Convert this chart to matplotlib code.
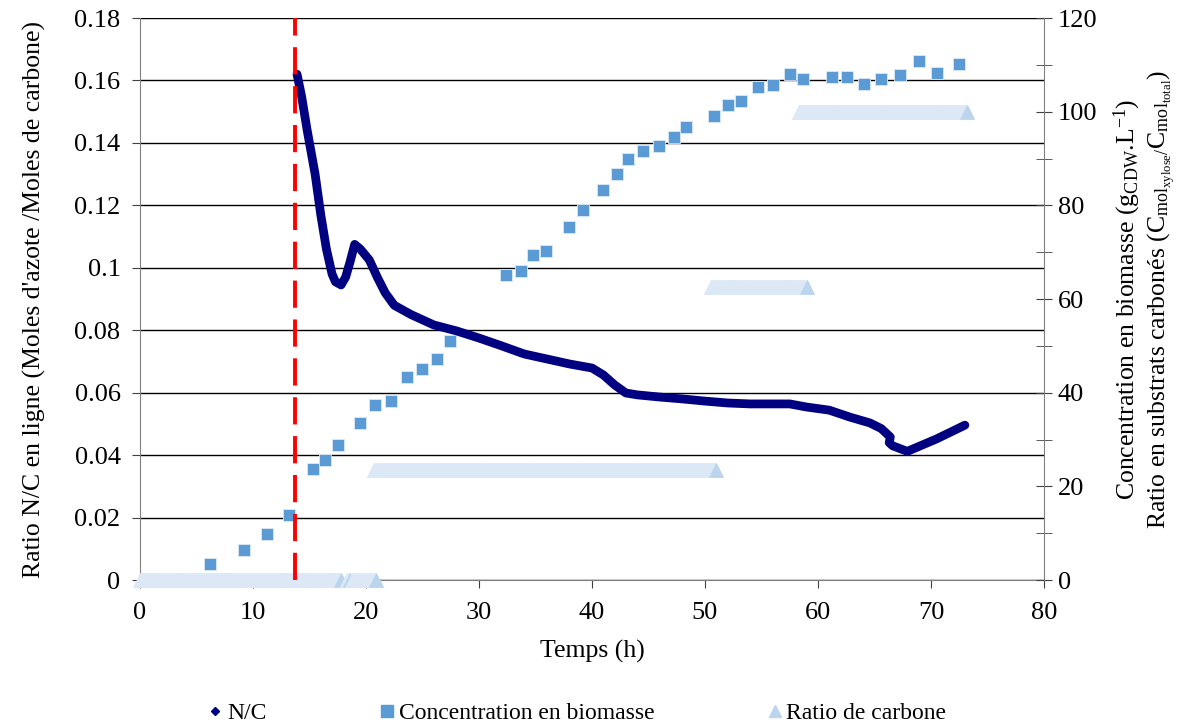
import numpy as np
import matplotlib
matplotlib.use("Agg")
import matplotlib.pyplot as plt
from matplotlib.lines import Line2D
from matplotlib.ticker import MultipleLocator

plt.rcParams['font.family'] = ['Liberation Serif', 'DejaVu Serif']
plt.rcParams['mathtext.fontset'] = 'custom'
plt.rcParams['mathtext.rm'] = 'Liberation Serif'
plt.rcParams['mathtext.it'] = 'Liberation Serif'

# Online N/C ratio (left axis)
nc_time = [13.9, 14.3, 14.8, 15.5, 16.0, 16.5, 17.0, 17.3, 17.8, 18.2, 18.6, 19.0,
           19.5, 20.3, 21.0, 21.7, 22.5, 24.0, 26.0, 28.0, 30.0, 32.0, 34.0, 36.0,
           38.0, 40.0, 41.0, 42.0, 43.0, 44.0, 46.0, 48.0, 50.0, 52.0, 54.0, 56.0,
           57.5, 59.0, 61.0, 62.8, 64.6, 65.6, 66.4, 66.3, 66.6, 67.9, 70.5, 73.0]
nc_ratio = [0.162, 0.155, 0.144, 0.130, 0.117, 0.106, 0.098, 0.0955, 0.0945, 0.097,
            0.102, 0.1075, 0.106, 0.1025, 0.097, 0.092, 0.088, 0.085, 0.0817, 0.0798,
            0.0775, 0.075, 0.0724, 0.0708, 0.0692, 0.0679, 0.0657, 0.0625, 0.0599,
            0.0593, 0.0586, 0.058, 0.0573, 0.0567, 0.0564, 0.0564, 0.0564, 0.0554,
            0.0544, 0.0522, 0.0503, 0.0485, 0.0458, 0.0440, 0.0430, 0.0412, 0.0452,
            0.0496]

# Biomass concentration (right axis)
bio_time = [6.2, 9.2, 11.2, 13.2, 15.3, 16.4, 17.5, 19.5, 20.8, 22.2, 23.6, 25.0,
            26.3, 27.4, 32.4, 33.7, 34.8, 35.9, 38.0, 39.2, 41.0, 42.2, 43.2, 44.5,
            45.9, 47.3, 48.3, 50.8, 52.0, 53.2, 54.7, 56.0, 57.5, 58.7, 61.2, 62.6,
            64.1, 65.6, 67.3, 68.9, 70.5, 72.5]
bio_conc = [3.4, 6.4, 9.8, 13.9, 23.7, 25.6, 28.8, 33.5, 37.4, 38.2, 43.3, 45.1,
            47.2, 51.0, 65.1, 66.0, 69.4, 70.3, 75.4, 79.0, 83.3, 86.7, 89.9, 91.6,
            92.7, 94.6, 96.7, 99.1, 101.4, 102.3, 105.3, 105.7, 108.1, 107.0, 107.4,
            107.4, 105.9, 107.0, 107.8, 110.8, 108.3, 110.2]

# Carbon substrate ratio phases (right axis): start, end, value
ratio_start = [0.0, 18.3, 18.8, 20.7, 50.5, 58.3]
ratio_end = [17.8, 18.6, 20.9, 51.0, 59.0, 73.2]
ratio_value = [0.0, 0.0, 0.0, 23.5, 62.5, 100.0]
sample_step = 0.05

switch_time = 13.7

navy = '#000080'
square_blue = '#5b9bd5'
band_blue = '#dce8f5'
tip_blue = '#bcd5ee'

TICK_FS = 19
LABEL_FS = 18.5

fig = plt.figure(figsize=(11.83, 7.27), dpi=100)
ax = fig.add_axes([0.1183, 0.2022, 0.7642, 0.773])
ax2 = ax.twinx()

ax.set_xlim(0, 80)
ax.set_ylim(0, 0.18)
ax2.set_ylim(0, 120)

ax.yaxis.set_major_locator(MultipleLocator(0.02))
ax.xaxis.set_major_locator(MultipleLocator(10))
ax2.yaxis.set_major_locator(MultipleLocator(20))
ax2.yaxis.set_minor_locator(MultipleLocator(10))

ax.grid(axis='y', color='black', lw=1.0)
ax.set_axisbelow(True)

for s in ['top', 'right']:
    ax.spines[s].set_visible(False)
for s in ['top', 'left', 'bottom']:
    ax2.spines[s].set_visible(False)
ax.spines['left'].set_color('#808080')
ax.spines['bottom'].set_color('#808080')
ax2.spines['right'].set_color('#808080')

ax.tick_params(axis='both', direction='out', length=6, color='#404040',
               labelsize=TICK_FS)
ax.tick_params(axis='y', pad=8)
ax.tick_params(axis='x', pad=10)
ax2.tick_params(axis='y', which='major', direction='inout', length=12,
                color='#404040', labelsize=TICK_FS, pad=4)
ax2.tick_params(axis='y', which='minor', direction='inout', length=12,
                color='#404040')

def fmt_left(v, _):
    if abs(v) < 1e-9:
        return '0'
    return ('%.2f' % v).rstrip('0')
ax.yaxis.set_major_formatter(plt.FuncFormatter(fmt_left))

# Carbon ratio bands drawn from densely sampled triangles
for t0, t1, v in zip(ratio_start, ratio_end, ratio_value):
    t = np.arange(t0, t1 + 1e-9, sample_step)
    ax2.plot(t, np.full_like(t, v), ls='none', marker='^', ms=10,
             mfc=band_blue, mec=band_blue, mew=0.5, zorder=2, clip_on=False)
    ax2.plot([t[-1]], [v], ls='none', marker='^', ms=10,
             mfc=tip_blue, mec=tip_blue, mew=0.5, zorder=2, clip_on=False)

ax2.plot(bio_time, bio_conc, ls='none', marker='s', ms=8.5,
         mfc=square_blue, mec='#dde9f5', mew=0.6, zorder=3)

ax2.plot(nc_time, np.array(nc_ratio) / 0.18 * 120, color=navy, lw=6.3,
         solid_capstyle='round', solid_joinstyle='round', zorder=4)

ax2.axvline(switch_time, color='#ff0000', lw=2.8, dashes=(7, 3), zorder=5)

ax.set_xlabel('Temps (h)', fontsize=LABEL_FS, labelpad=11)
ax.set_ylabel("Ratio N/C en ligne (Moles d'azote /Moles de carbone)",
              fontsize=LABEL_FS, labelpad=20)
ax2.set_ylabel('Concentration en biomasse (g$_{\\mathrm{CDW}}$.L$^{-1}$)\n'
               'Ratio en substrats carbonés (C$_{\\mathrm{mol}_{\\mathrm{xylose}}/}$'
               'C$_{\\mathrm{mol}_{\\mathrm{total}}}$)',
               fontsize=LABEL_FS, labelpad=10, linespacing=1.15)

handles = [
    Line2D([], [], ls='none', marker='D', ms=4, color=navy),
    Line2D([], [], ls='none', marker='s', ms=8, color=square_blue),
    Line2D([], [], ls='none', marker='^', ms=9, color=tip_blue),
]
labels = ['N/C', 'Concentration en biomasse', 'Ratio de carbone']
fig.legend(handles, labels, loc='center', bbox_to_anchor=(0.488, 0.019),
           ncol=3, frameon=False, fontsize=17, handlelength=0.6,
           handletextpad=0.2, columnspacing=4.8)

fig.savefig('out.png', dpi=100)
